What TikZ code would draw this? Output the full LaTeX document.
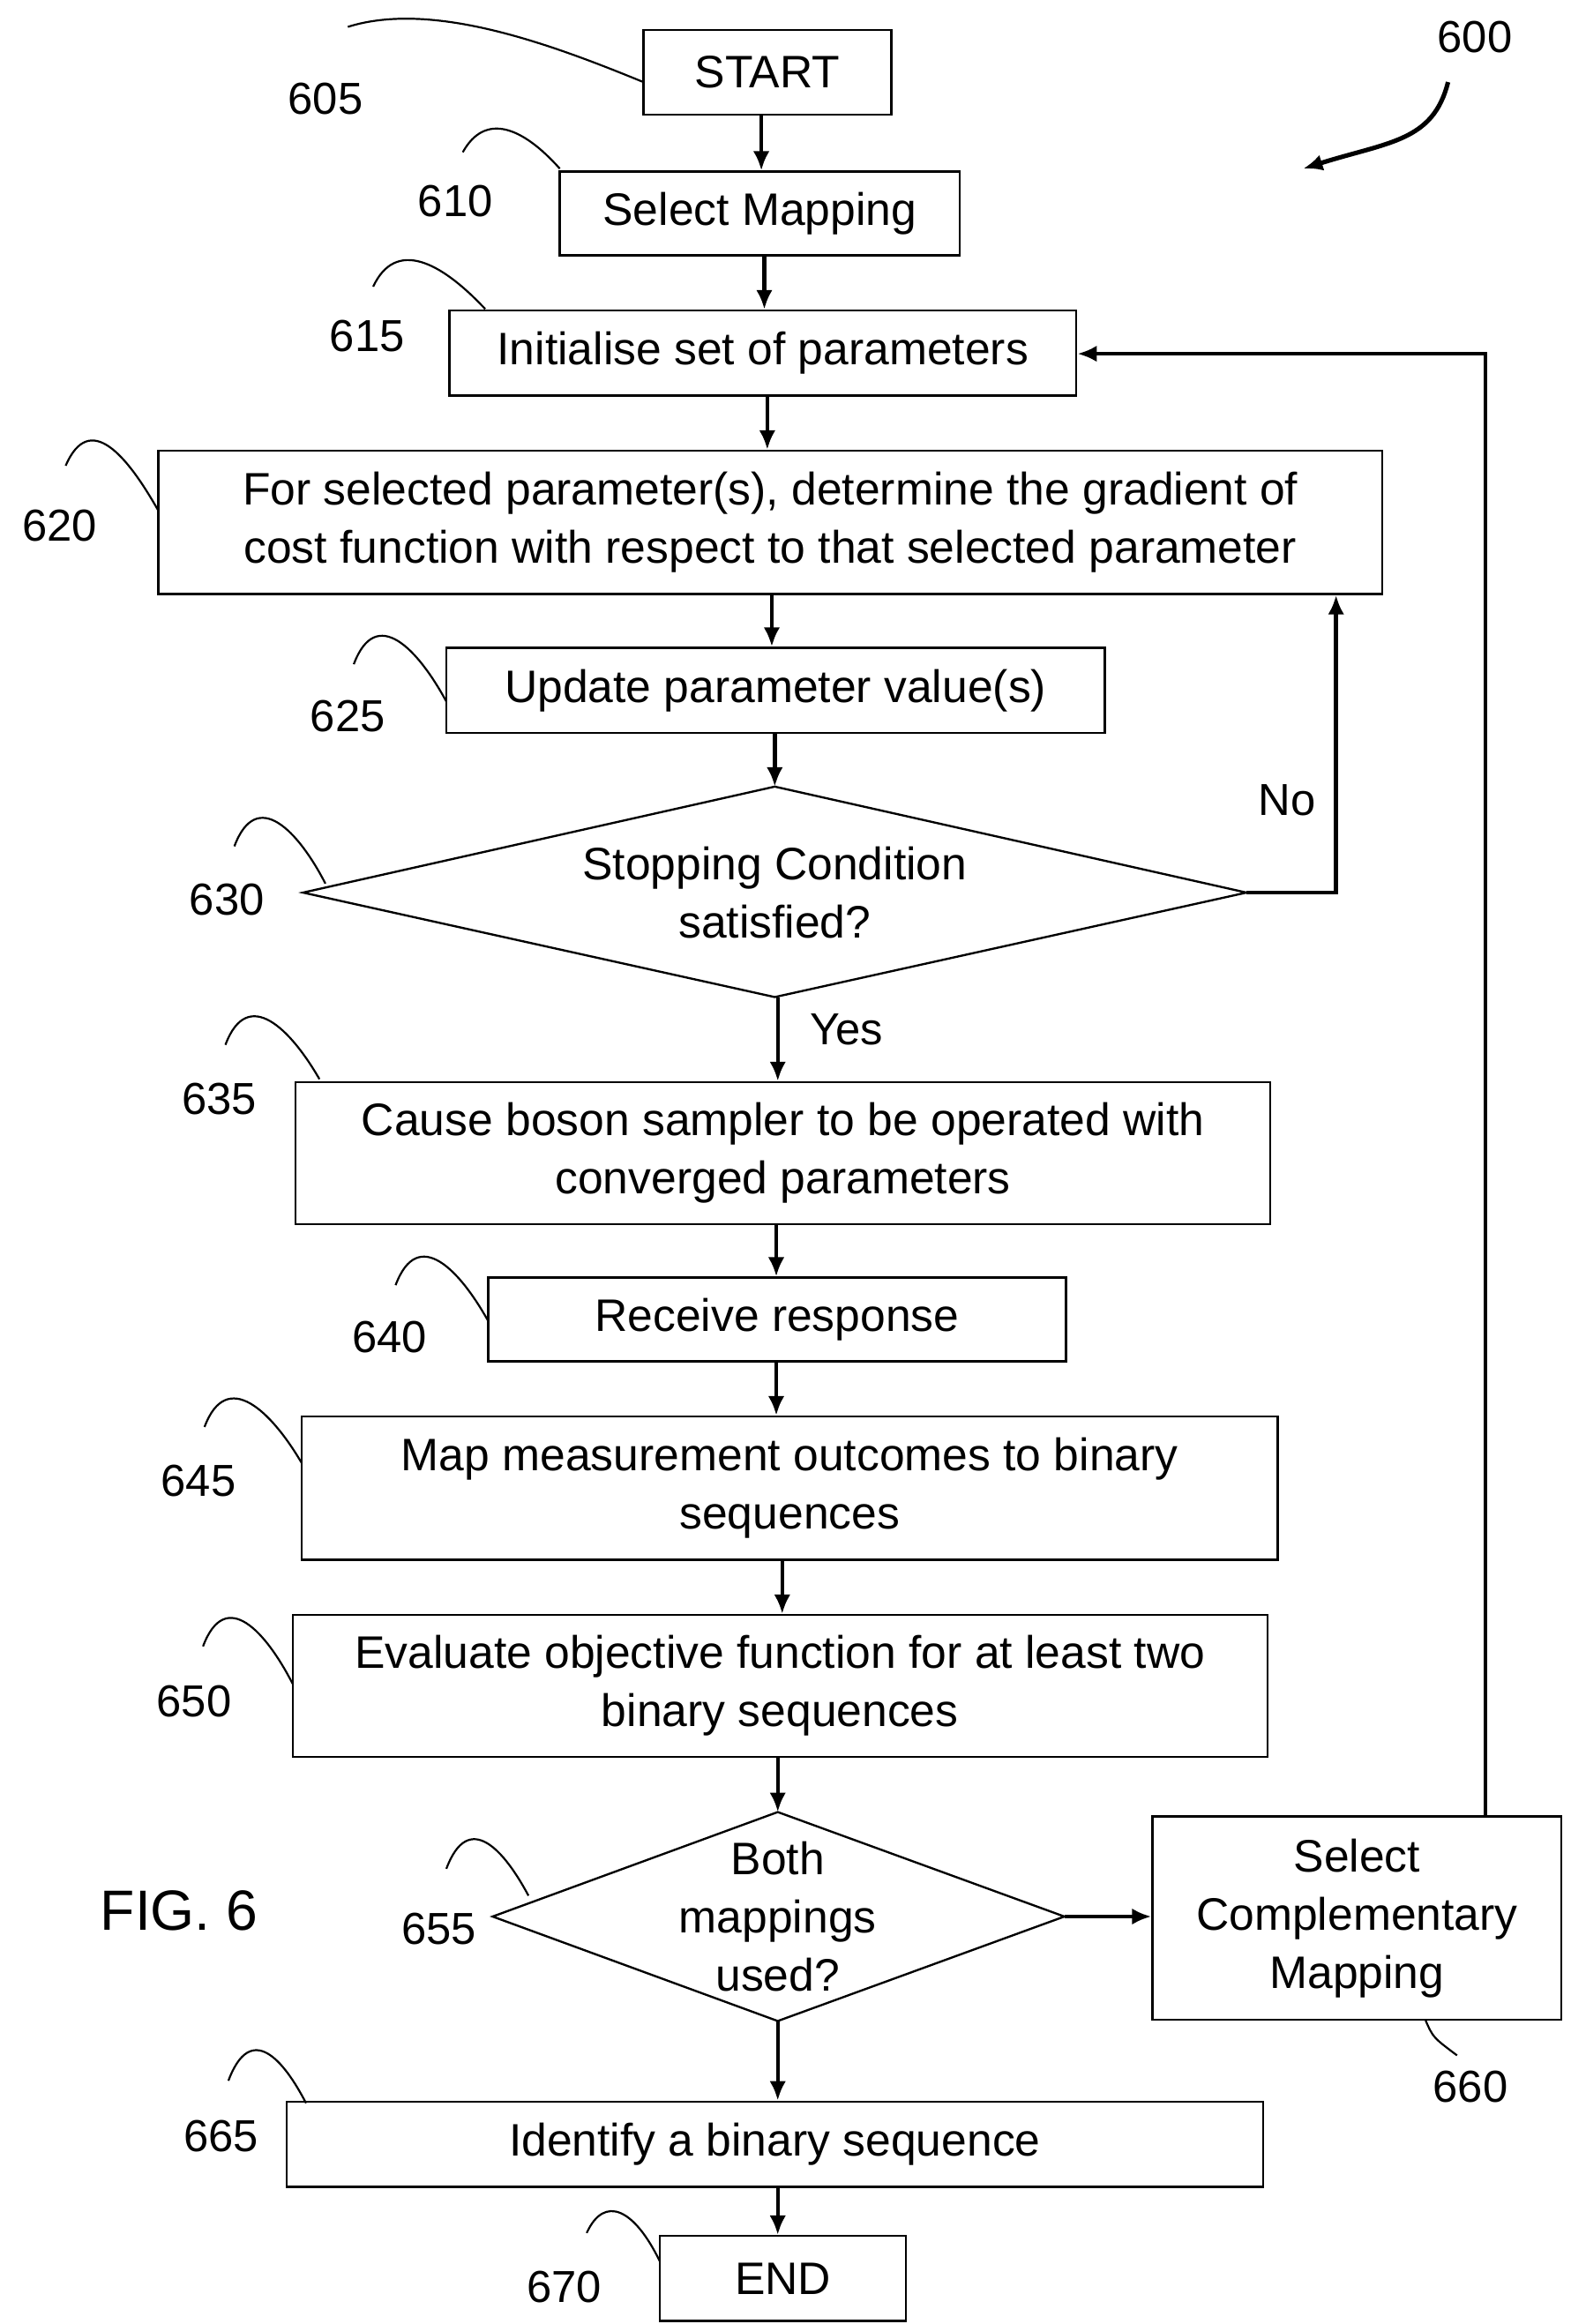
\documentclass[tikz,border=0pt]{standalone}
\usepackage{fontspec}
\setmainfont{Liberation Sans}
\usetikzlibrary{shapes.geometric,arrows.meta}
\begin{document}
\begin{tikzpicture}[x=1pt,y=-1pt,
  box/.style={draw,line width=1.4pt,inner sep=0pt,align=center,font=\fontsize{30.5}{39}\selectfont},
  lbl/.style={font=\fontsize{30}{32}\selectfont},
  arr/.style={line width=2.6pt,-{Latex[length=13pt,width=11pt]}},
  lead/.style={line width=1.3pt}]
\useasboundingbox (0,0) rectangle (1052,1557);
\def\bx#1#2#3#4#5#6{\node[box,minimum width=#4-#2,minimum height=#5-#3] (#1) at ({(#2+#4)/2},{(#3+#5)/2}) {#6};}
\bx{start}{431}{20}{597}{77}{START}
\bx{sel}{375}{115}{643}{171}{Select Mapping}
\bx{init}{301}{208}{721}{265}{Initialise set of parameters}
\bx{grad}{106}{302}{926}{398}{For selected parameter(s), determine the gradient of\\cost function with respect to that selected parameter}
\bx{upd}{299}{434}{740}{491}{Update parameter value(s)}
\bx{cause}{198}{725}{851}{820}{Cause boson sampler to be operated with\\converged parameters}
\bx{recv}{327}{856}{714}{912}{Receive response}
\bx{map}{202}{949}{856}{1045}{Map measurement outcomes to binary\\sequences}
\bx{eval}{196}{1082}{849}{1177}{Evaluate objective function for at least two\\binary sequences}
\bx{comp}{772}{1217}{1046}{1353}{Select\\Complementary\\Mapping}
\bx{ident}{192}{1408}{846}{1465}{Identify a binary sequence}
\bx{endn}{442}{1498}{607}{1555}{END}
% diamonds
\coordinate (d1l) at (203,598); \coordinate (d1r) at (835,598);
\coordinate (d1t) at (519,527); \coordinate (d1b) at (519,668);
\draw[line width=1.4pt] (d1l)--(d1t)--(d1r)--(d1b)--cycle;
\node[box,draw=none] (d1) at (519,598) {Stopping Condition\\satisfied?};
\coordinate (d2l) at (330,1284); \coordinate (d2r) at (713,1284);
\coordinate (d2t) at (521,1214); \coordinate (d2b) at (521,1354);
\draw[line width=1.4pt] (d2l)--(d2t)--(d2r)--(d2b)--cycle;
\node[box,draw=none] (d2) at (521,1284) {Both\\mappings\\used?};
% arrows
\draw[arr] (start.south -| 510,0) -- (sel.north -| 510,0);
\draw[arr] (sel.south -| 512,0) -- (init.north -| 512,0);
\draw[arr] (init.south -| 514,0) -- (grad.north -| 514,0);
\draw[arr] (grad.south -| 517,0) -- (upd.north -| 517,0);
\draw[arr] (upd.south -| 519,0) -- (d1t);
\draw[arr] (d1b -| 521,0) -- (cause.north -| 521,0);
\draw[arr] (cause.south -| 520,0) -- (recv.north -| 520,0);
\draw[arr] (recv.south -| 520,0) -- (map.north -| 520,0);
\draw[arr] (map.south -| 524,0) -- (eval.north -| 524,0);
\draw[arr] (eval.south -| 521,0) -- (d2t);
\draw[arr] (d2b) -- (ident.north -| 521,0);
\draw[arr] (ident.south -| 521,0) -- (endn.north -| 521,0);
\draw[arr] (d1r) -- (895,598) -- (grad.south -| 895,0);
\draw[arr] (d2r) -- (comp.west |- d2r);
\draw[arr] (comp.north -| 995,0) -- (995,237) -- (init.east |- 0,237);
\node[lbl] (no) at (862,536) {No};
\node[lbl] (yes) at (567,690) {Yes};
% labels & leaders
\node[lbl] (l605) at (218,66) {605}; \coordinate (c605) at (431,55);
\draw[lead] (233,18) .. controls (290,0) and (370,30) .. (c605);
\node[lbl] (l610) at (305,135) {610}; \coordinate (c610) at (375,113);
\draw[lead] (310,102) .. controls (325,75) and (350,85) .. (c610);
\node[lbl] (l615) at (246,225) {615}; \coordinate (c615) at (325,207);
\draw[lead] (250,192) .. controls (265,160) and (295,175) .. (c615);
\node[lbl] (l620) at (40,352) {620}; \coordinate (c620) at (106,342);
\draw[lead] (44,312) .. controls (60,275) and (85,305) .. (c620);
\node[lbl] (l625) at (233,480) {625}; \coordinate (c625) at (299,470);
\draw[lead] (237,445) .. controls (252,405) and (280,435) .. (c625);
\node[lbl] (l630) at (152,603) {630}; \coordinate (c630) at (218,592);
\draw[lead] (157,567) .. controls (172,527) and (200,557) .. (c630);
\node[lbl] (l635) at (147,736) {635}; \coordinate (c635) at (214,723);
\draw[lead] (151,700) .. controls (166,660) and (195,690) .. (c635);
\node[lbl] (l640) at (261,896) {640}; \coordinate (c640) at (327,885);
\draw[lead] (265,861) .. controls (280,821) and (308,851) .. (c640);
\node[lbl] (l645) at (133,992) {645}; \coordinate (c645) at (202,980);
\draw[lead] (137,956) .. controls (152,916) and (182,946) .. (c645);
\node[lbl] (l650) at (130,1140) {650}; \coordinate (c650) at (196,1128);
\draw[lead] (136,1103) .. controls (151,1063) and (178,1093) .. (c650);
\node[lbl] (l655) at (294,1292) {655}; \coordinate (c655) at (354,1270);
\draw[lead] (299,1252) .. controls (314,1212) and (338,1240) .. (c655);
\node[lbl] (l660) at (985,1398) {660};
\draw[lead] (comp.south -| 955,0) .. controls (960,1365) .. (976,1377);
\node[lbl] (l665) at (148,1431) {665}; \coordinate (c665) at (205,1409);
\draw[lead] (153,1394) .. controls (168,1354) and (190,1380) .. (c665);
\node[lbl] (l670) at (378,1532) {670}; \coordinate (c670) at (442,1515);
\draw[lead] (393,1496) .. controls (405,1470) and (425,1480) .. (c670);
\node[lbl] (l600) at (988,25) {600}; \coordinate (c600) at (873,113);
\draw[arr,line width=3pt] (970,55) .. controls (960,95) and (930,95) .. (c600);
\node[font=\fontsize{38}{40}\selectfont] (fig) at (120,1280) {FIG. 6};
\end{tikzpicture}
\end{document}
